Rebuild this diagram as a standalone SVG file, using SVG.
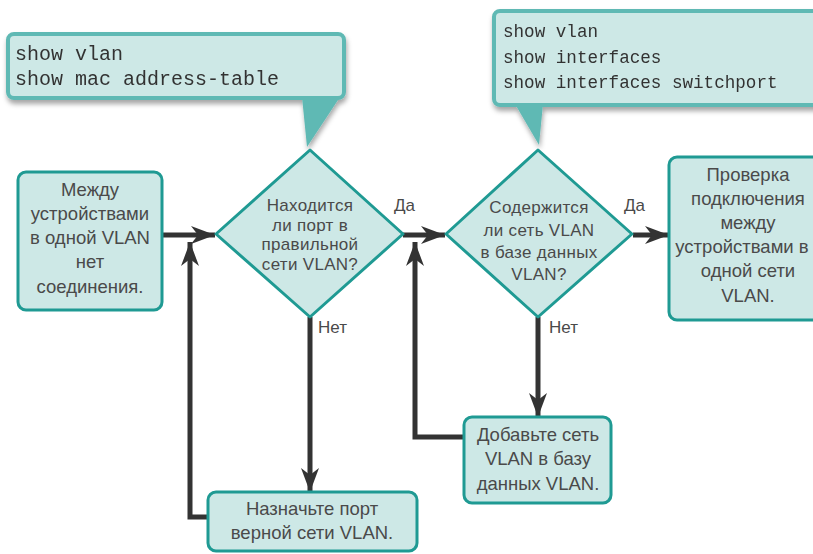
<svg xmlns="http://www.w3.org/2000/svg" width="813" height="554" viewBox="0 0 813 554">
<defs>
<filter id="sh" x="-10%" y="-10%" width="130%" height="140%">
<feDropShadow dx="1" dy="4" stdDeviation="2.5" flood-color="#000" flood-opacity="0.35"/>
</filter>
<marker id="ar" markerUnits="userSpaceOnUse" markerWidth="26" markerHeight="22" viewBox="0 -11 26 22" refX="24" refY="0" orient="auto">
<path d="M0,-9 L24,0 L0,9 L7,0 z" fill="#333"/>
</marker>
</defs>
<style>
.node{fill:#cde8e6;stroke:#1f9a93;stroke-width:3}
.call{fill:#cde8e6;stroke:#5fb9b4;stroke-width:4}
.tail{fill:#5fb9b4}
.t{font-family:"Liberation Sans",Arial,sans-serif;font-size:18.5px;fill:#4a4a4a;text-anchor:middle}
.d{font-size:17px;letter-spacing:0.3px}
.lbl{font-family:"Liberation Sans",Arial,sans-serif;font-size:17px;fill:#4a4a4a}
.mono{font-family:"Liberation Mono","Courier New",monospace;fill:#333}
.c{fill:none;stroke:#333;stroke-width:5}
</style>
<rect width="813" height="554" fill="#fff"/>

<g id="callout1" filter="url(#sh)">
<path class="tail" d="M302,97 L340,97 L307,147 Z"/>
<rect class="call" x="8" y="34" width="336" height="64" rx="6"/>
<text class="mono" font-size="20" x="15" y="60">show vlan</text>
<text class="mono" font-size="20" x="15" y="85">show mac address-table</text>
</g>

<g id="callout2" filter="url(#sh)">
<path class="tail" d="M515,104 L543,104 L539,145 Z"/>
<rect class="call" x="494" y="11" width="330" height="94" rx="6"/>
<text class="mono" font-size="17.6" x="503" y="37">show vlan</text>
<text class="mono" font-size="17.6" x="503" y="63">show interfaces</text>
<text class="mono" font-size="17.6" x="503" y="88">show interfaces switchport</text>
</g>

<g id="connectors">
<path class="c" d="M162,235 H215" marker-end="url(#ar)"/>
<path class="c" d="M403,235 H445" marker-end="url(#ar)"/>
<path class="c" d="M633,235 H669" marker-end="url(#ar)"/>
<path class="c" d="M310,317 V492" marker-end="url(#ar)"/>
<path class="c" d="M538,317 V417" marker-end="url(#ar)"/>
<path class="c" d="M208,517 H190 V242" marker-end="url(#ar)"/>
<path class="c" d="M464,437 H415 V242" marker-end="url(#ar)"/>
<text class="lbl" x="394" y="211">Да</text>
<text class="lbl" x="624" y="211">Да</text>
<text class="lbl" x="318" y="333">Нет</text>
<text class="lbl" x="549" y="333">Нет</text>
</g>

<g id="start">
<rect class="node" x="18" y="172" width="144" height="138" rx="8"/>
<text class="t" x="90" y="196">Между</text>
<text class="t" x="90" y="220">устройствами</text>
<text class="t" x="90" y="244">в одной VLAN</text>
<text class="t" x="90" y="268">нет</text>
<text class="t" x="90" y="293">соединения.</text>
</g>

<g id="decision1">
<path class="node" d="M310,150 L403,234 L310,317 L216,234 Z" stroke-linejoin="round"/>
<text class="t d" x="310" y="211">Находится</text>
<text class="t d" x="310" y="230.5">ли порт в</text>
<text class="t d" x="310" y="250">правильной</text>
<text class="t d" x="310" y="269.5">сети VLAN?</text>
</g>

<g id="decision2">
<path class="node" d="M538,150 L632,234 L538,317 L446,234 Z" stroke-linejoin="round"/>
<text class="t d" x="539" y="213">Содержится</text>
<text class="t d" x="539" y="236">ли сеть VLAN</text>
<text class="t d" x="539" y="258">в базе данных</text>
<text class="t d" x="539" y="280">VLAN?</text>
</g>

<g id="verify">
<rect class="node" x="669" y="157" width="158" height="163" rx="8"/>
<text class="t" x="748" y="181">Проверка</text>
<text class="t" x="748" y="205">подключения</text>
<text class="t" x="748" y="229">между</text>
<text class="t" x="742" y="253" font-size="17">устройствами в</text>
<text class="t" x="748" y="277">одной сети</text>
<text class="t" x="748" y="302">VLAN.</text>
</g>

<g id="assign">
<rect class="node" x="208" y="492" width="209" height="59" rx="8"/>
<text class="t" x="312" y="515">Назначьте порт</text>
<text class="t" x="312" y="539">верной сети VLAN.</text>
</g>

<g id="addvlan">
<rect class="node" x="464" y="417" width="147" height="86" rx="8"/>
<text class="t" x="538" y="441">Добавьте сеть</text>
<text class="t" x="538" y="465">VLAN в базу</text>
<text class="t" x="538" y="490">данных VLAN.</text>
</g>
</svg>
